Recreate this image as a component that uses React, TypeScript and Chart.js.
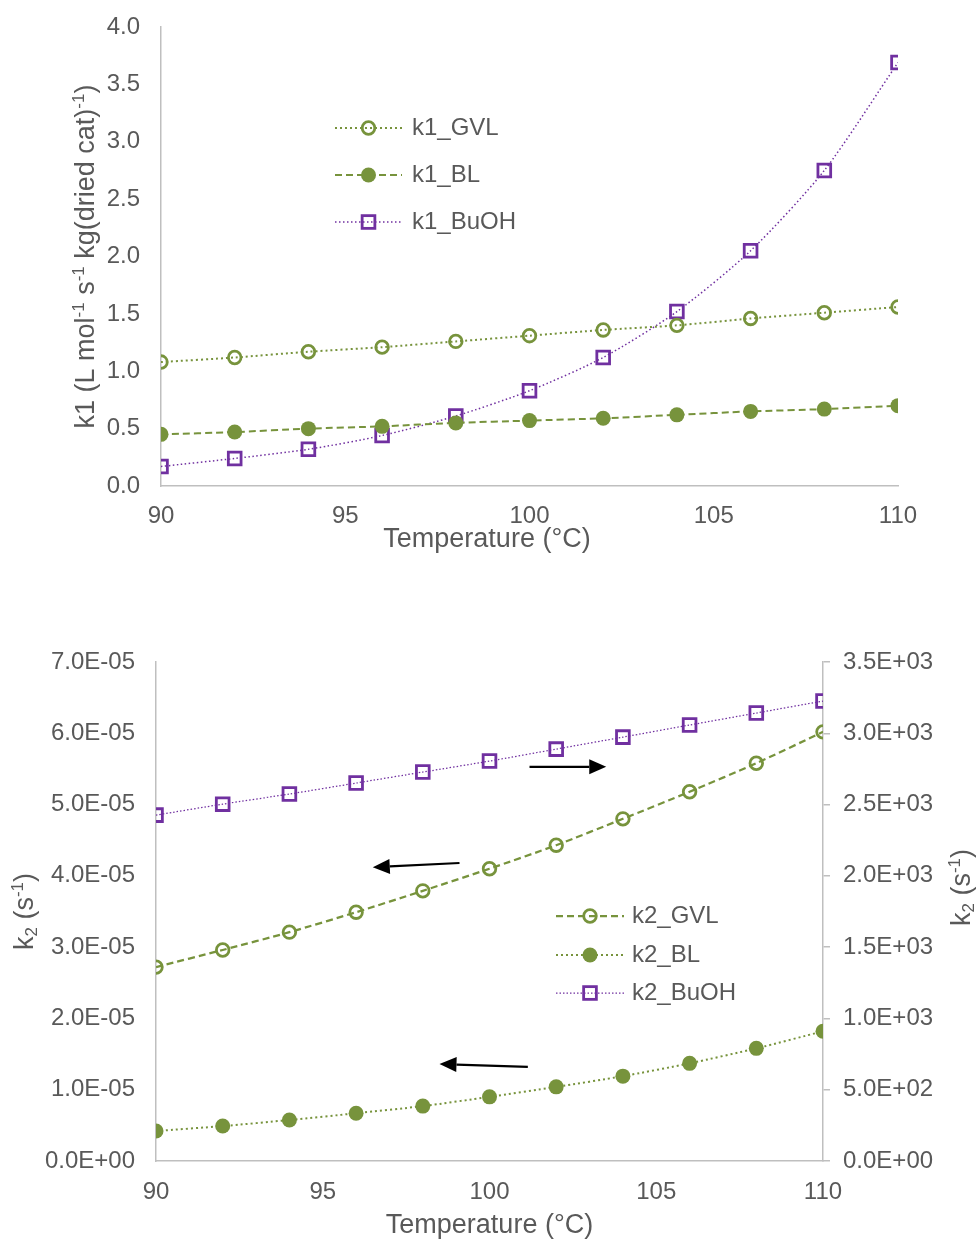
import React, { useEffect, useRef } from 'react';
import { Chart, registerables } from 'chart.js';

Chart.register(...registerables);

// ---------------- data ----------------
const temperatures = [90, 92, 94, 96, 98, 100, 102, 104, 106, 108, 110];

const k1GVL = [1.08, 1.12, 1.17, 1.21, 1.26, 1.31, 1.36, 1.4, 1.46, 1.51, 1.56];
const k1BL = [0.45, 0.47, 0.5, 0.52, 0.55, 0.57, 0.59, 0.62, 0.65, 0.67, 0.7];
const k1BuOH = [0.17, 0.24, 0.32, 0.44, 0.61, 0.83, 1.12, 1.52, 2.05, 2.75, 3.69];

const k2GVL = [2.72e-5, 2.96e-5, 3.21e-5, 3.49e-5, 3.79e-5, 4.1e-5, 4.43e-5, 4.8e-5, 5.18e-5, 5.58e-5, 6.02e-5];
const k2BL = [0.42e-5, 0.49e-5, 0.575e-5, 0.67e-5, 0.77e-5, 0.9e-5, 1.04e-5, 1.19e-5, 1.37e-5, 1.58e-5, 1.82e-5];
const k2BuOH = [2426, 2503, 2574, 2651, 2728, 2805, 2889, 2973, 3058, 3142, 3226];

const topLabels = ['k1_GVL', 'k1_BL', 'k1_BuOH'];
const bottomLabels = ['k2_GVL', 'k2_BL', 'k2_BuOH'];
const xTitle = 'Temperature (°C)';

// arrows in data coordinates (left axis units): [fromX, fromY, toX, toY]
const arrows = [
  [99.1, 4.18e-5, 96.5, 4.12e-5],
  [101.15, 1.32e-5, 98.5, 1.36e-5],
  [101.2, 5.53e-5, 103.5, 5.53e-5],
];

// ---------------- styles ----------------
const FONT = '"Liberation Sans", Arial, sans-serif';
const TEXT = '#595959';
const AXIS = '#BFBFBF';
const GREEN = '#77933C';
const PURPLE = '#7030A0';
const TICK_SIZE = 24;
const LEGEND_SIZE = 24;
const TITLE_SIZE = 27;

type Marker = 'open' | 'filled' | 'square';
interface SeriesStyle {
  color: string;
  dash: number[];
  width: number;
  marker: Marker;
}

const topStyles: SeriesStyle[] = [
  { color: GREEN, dash: [2, 3], width: 2, marker: 'open' },
  { color: GREEN, dash: [7, 4], width: 2, marker: 'filled' },
  { color: PURPLE, dash: [1.5, 2.5], width: 1.5, marker: 'square' },
];
const bottomStyles: SeriesStyle[] = [
  { color: GREEN, dash: [7, 4], width: 2.25, marker: 'open' },
  { color: GREEN, dash: [2, 3], width: 2, marker: 'filled' },
  { color: PURPLE, dash: [1.5, 2], width: 1.25, marker: 'square' },
];

function dataset(label: string, values: number[], st: SeriesStyle, yAxisID = 'y') {
  const base: any = {
    label,
    data: temperatures.map((t, i) => ({ x: t, y: values[i] })),
    borderColor: st.color,
    borderWidth: st.width,
    borderDash: st.dash,
    fill: false,
    tension: 0.25,
    yAxisID,
    pointBorderColor: st.color,
    pointHoverRadius: 0,
  };
  if (st.marker === 'open') {
    Object.assign(base, { pointStyle: 'circle', pointRadius: 6.3, pointBorderWidth: 2.8, pointBackgroundColor: 'rgba(0,0,0,0)' });
  } else if (st.marker === 'filled') {
    Object.assign(base, { pointStyle: 'circle', pointRadius: 7.5, pointBorderWidth: 0, pointBackgroundColor: st.color });
  } else {
    Object.assign(base, { pointStyle: 'rect', pointRadius: 9, pointBorderWidth: 2.8, pointBackgroundColor: 'rgba(0,0,0,0)' });
  }
  return base;
}

function drawMarker(ctx: CanvasRenderingContext2D, st: SeriesStyle, x: number, y: number) {
  ctx.save();
  ctx.setLineDash([]);
  ctx.strokeStyle = st.color;
  ctx.fillStyle = st.color;
  if (st.marker === 'open') {
    ctx.lineWidth = 2.8;
    ctx.beginPath();
    ctx.arc(x, y, 6.3, 0, Math.PI * 2);
    ctx.stroke();
  } else if (st.marker === 'filled') {
    ctx.beginPath();
    ctx.arc(x, y, 7.5, 0, Math.PI * 2);
    ctx.fill();
  } else {
    const h = 9 * Math.SQRT1_2;
    ctx.lineWidth = 2.8;
    ctx.strokeRect(x - h, y - h, 2 * h, 2 * h);
  }
  ctx.restore();
}

function legendPlugin(labels: string[], styles: SeriesStyle[], x0: number, x1: number, textX: number, rows: number[]) {
  return {
    id: 'customLegend',
    afterDraw(chart: any) {
      const ctx: CanvasRenderingContext2D = chart.ctx;
      labels.forEach((lab, i) => {
        const st = styles[i];
        const y = rows[i];
        ctx.save();
        ctx.strokeStyle = st.color;
        ctx.lineWidth = st.width;
        ctx.setLineDash(st.dash);
        ctx.beginPath();
        ctx.moveTo(x0, y);
        ctx.lineTo(x1, y);
        ctx.stroke();
        ctx.restore();
        drawMarker(ctx, st, (x0 + x1) / 2, y);
        ctx.save();
        ctx.fillStyle = TEXT;
        ctx.font = `${LEGEND_SIZE}px ${FONT}`;
        ctx.textBaseline = 'middle';
        ctx.textAlign = 'left';
        ctx.fillText(lab, textX, y);
        ctx.restore();
      });
    },
  };
}

type Seg = { t: string; s?: 'sup' | 'sub' };

function drawRich(ctx: CanvasRenderingContext2D, segs: Seg[], cx: number, cy: number, size: number, rotation: number) {
  ctx.save();
  ctx.translate(cx, cy);
  ctx.rotate(rotation);
  const small = Math.round(size * 0.62);
  let total = 0;
  const widths = segs.map((sg) => {
    ctx.font = `${sg.s ? small : size}px ${FONT}`;
    const w = ctx.measureText(sg.t).width;
    total += w;
    return w;
  });
  let x = -total / 2;
  ctx.fillStyle = TEXT;
  ctx.textBaseline = 'middle';
  ctx.textAlign = 'left';
  segs.forEach((sg, i) => {
    ctx.font = `${sg.s ? small : size}px ${FONT}`;
    const dy = sg.s === 'sup' ? -size * 0.3 : sg.s === 'sub' ? size * 0.22 : 0;
    ctx.fillText(sg.t, x, dy);
    x += widths[i];
  });
  ctx.restore();
}

function sciLabel(v: number) {
  const [m, e] = Number(v).toExponential(1).split('e');
  const n = parseInt(e, 10);
  const sign = n < 0 ? '-' : '+';
  return `${m}E${sign}${String(Math.abs(n)).padStart(2, '0')}`;
}

const tickFont = { family: FONT, size: TICK_SIZE };

const fixWidth = (w: number) => (s: any) => {
  s.width = w;
  s.paddingTop = 0;
  s.paddingBottom = 0;
};

function TopChart() {
  const ref = useRef<HTMLCanvasElement>(null);
  useEffect(() => {
    const titlePlugin = {
      id: 'titles',
      afterDraw(chart: any) {
        const a = chart.chartArea;
        drawRich(
          chart.ctx,
          [
            { t: 'k1 (L mol' },
            { t: '-1', s: 'sup' },
            { t: ' s' },
            { t: '-1', s: 'sup' },
            { t: ' kg(dried cat)' },
            { t: '-1', s: 'sup' },
            { t: ')' },
          ],
          87,
          (a.top + a.bottom) / 2,
          TITLE_SIZE,
          -Math.PI / 2
        );
        drawRich(chart.ctx, [{ t: xTitle }], 487, 540, TITLE_SIZE, 0);
      },
    };
    const chart = new Chart(ref.current!, {
      type: 'line',
      data: {
        datasets: [
          dataset(topLabels[0], k1GVL, topStyles[0]),
          dataset(topLabels[1], k1BL, topStyles[1]),
          dataset(topLabels[2], k1BuOH, topStyles[2]),
        ],
      },
      options: {
        responsive: false,
        animation: false,
        layout: { padding: { top: 27, right: 82, left: 0, bottom: 0 } },
        plugins: { legend: { display: false }, tooltip: { enabled: false } },
        scales: {
          x: {
            type: 'linear',
            min: 90,
            max: 110,
            afterFit: (s: any) => { s.height = 94; },
            ticks: { stepSize: 5, color: TEXT, font: tickFont, padding: 16, maxRotation: 0 },
            grid: { display: false, drawTicks: false },
            border: { display: true, color: AXIS, width: 1.5 },
          },
          y: {
            type: 'linear',
            min: 0,
            max: 4,
            afterFit: fixWidth(161),
            ticks: { stepSize: 0.5, color: TEXT, font: tickFont, padding: 21, callback: (v: any) => Number(v).toFixed(1) },
            grid: { display: false, drawTicks: false },
            border: { display: true, color: AXIS, width: 1.5 },
          },
        },
      },
      plugins: [titlePlugin, legendPlugin(topLabels, topStyles, 335, 402, 412, [128, 175, 222])],
    } as any);
    return () => chart.destroy();
  }, []);
  return <canvas ref={ref} width={980} height={580} style={{ display: 'block' }} />;
}

function BottomChart() {
  const ref = useRef<HTMLCanvasElement>(null);
  useEffect(() => {
    const extras = {
      id: 'extras',
      afterDraw(chart: any) {
        const ctx: CanvasRenderingContext2D = chart.ctx;
        const a = chart.chartArea;
        const xs = chart.scales.x;
        const ys = chart.scales.y;
        // arrows
        arrows.forEach(([fx, fy, tx, ty]) => {
          const x1 = xs.getPixelForValue(fx);
          const y1 = ys.getPixelForValue(fy);
          const x2 = xs.getPixelForValue(tx);
          const y2 = ys.getPixelForValue(ty);
          const ang = Math.atan2(y2 - y1, x2 - x1);
          const hl = 17;
          const hw = 7.5;
          const bx = x2 - hl * Math.cos(ang);
          const by = y2 - hl * Math.sin(ang);
          ctx.save();
          ctx.strokeStyle = '#000';
          ctx.fillStyle = '#000';
          ctx.lineWidth = 2.2;
          ctx.setLineDash([]);
          ctx.beginPath();
          ctx.moveTo(x1, y1);
          ctx.lineTo(bx, by);
          ctx.stroke();
          ctx.beginPath();
          ctx.moveTo(x2, y2);
          ctx.lineTo(bx - hw * Math.sin(ang), by + hw * Math.cos(ang));
          ctx.lineTo(bx + hw * Math.sin(ang), by - hw * Math.cos(ang));
          ctx.closePath();
          ctx.fill();
          ctx.restore();
        });
        const segs: Seg[] = [{ t: 'k' }, { t: '2', s: 'sub' }, { t: ' (s' }, { t: '-1', s: 'sup' }, { t: ')' }];
        drawRich(ctx, segs, 26, (a.top + a.bottom) / 2, TITLE_SIZE, -Math.PI / 2);
        drawRich(ctx, segs, 963, (a.top + a.bottom) / 2 - 24, TITLE_SIZE, -Math.PI / 2);
        drawRich(ctx, [{ t: xTitle }], (a.left + a.right) / 2, 646, TITLE_SIZE, 0);
      },
    };
    const chart = new Chart(ref.current!, {
      type: 'line',
      data: {
        datasets: [
          dataset(bottomLabels[0], k2GVL, bottomStyles[0], 'y'),
          dataset(bottomLabels[1], k2BL, bottomStyles[1], 'y'),
          dataset(bottomLabels[2], k2BuOH, bottomStyles[2], 'y2'),
        ],
      },
      options: {
        responsive: false,
        animation: false,
        layout: { padding: { top: 82, right: 0, left: 0, bottom: 0 } },
        plugins: { legend: { display: false }, tooltip: { enabled: false } },
        scales: {
          x: {
            type: 'linear',
            min: 90,
            max: 110,
            afterFit: (s: any) => { s.height = 80; },
            ticks: { stepSize: 5, color: TEXT, font: tickFont, padding: 17, maxRotation: 0 },
            grid: { display: false, drawTicks: false },
            border: { display: true, color: AXIS, width: 1.5 },
          },
          y: {
            type: 'linear',
            position: 'left',
            min: 0,
            max: 7e-5,
            afterFit: fixWidth(156),
            ticks: { stepSize: 1e-5, color: TEXT, font: tickFont, padding: 21, callback: (v: any) => sciLabel(v) },
            grid: { display: false, drawTicks: false },
            border: { display: true, color: AXIS, width: 1.5 },
          },
          y2: {
            type: 'linear',
            position: 'right',
            min: 0,
            max: 3500,
            afterFit: fixWidth(157),
            ticks: { stepSize: 500, color: TEXT, font: tickFont, padding: 13, callback: (v: any) => sciLabel(v) },
            grid: { display: true, drawOnChartArea: false, drawTicks: true, tickLength: 7, color: AXIS, lineWidth: 1.5 },
            border: { display: true, color: AXIS, width: 1.5 },
          },
        },
      },
      plugins: [extras, legendPlugin(bottomLabels, bottomStyles, 556, 624, 632, [336, 375, 413])],
    } as any);
    return () => chart.destroy();
  }, []);
  return <canvas ref={ref} width={980} height={661} style={{ display: 'block' }} />;
}

export default function App() {
  useEffect(() => {
    document.body.style.margin = '0';
  }, []);
  return (
    <div style={{ width: 980, background: '#fff' }}>
      <TopChart />
      <BottomChart />
    </div>
  );
}
